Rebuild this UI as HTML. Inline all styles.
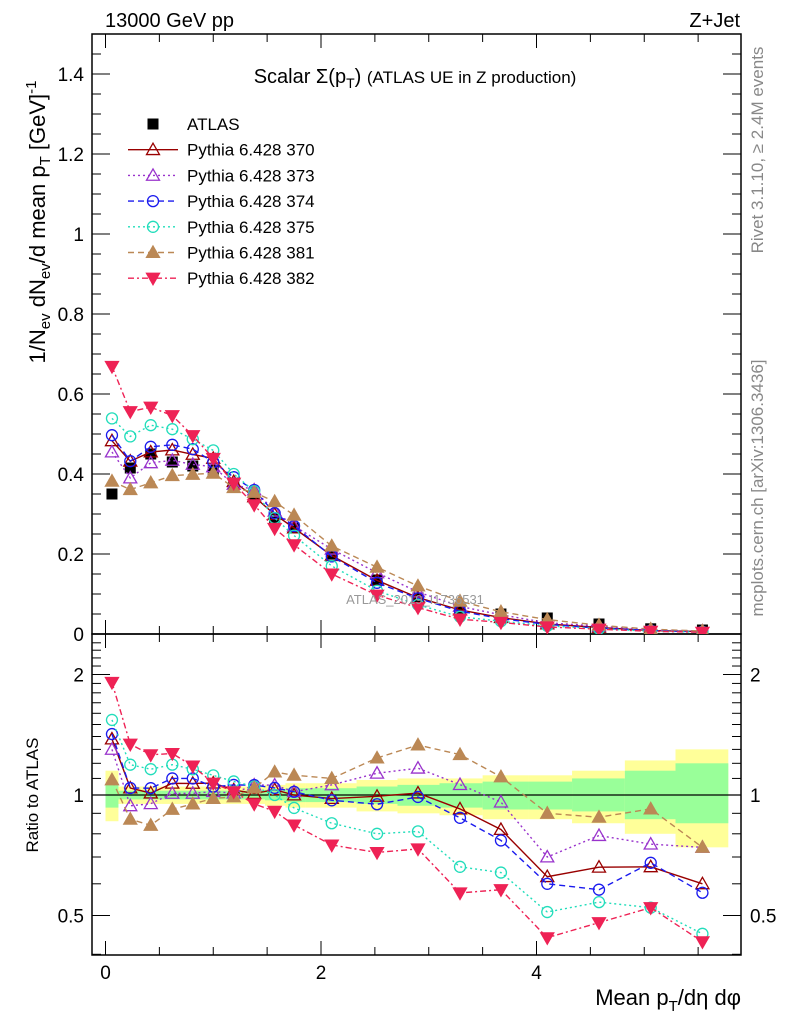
<!DOCTYPE html>
<html><head><meta charset="utf-8"><style>
html,body{margin:0;padding:0;background:#fff}
svg{display:block;font-family:"Liberation Sans",sans-serif}
</style></head><body>
<svg id="c" width="786" height="1024" viewBox="0 0 786 1024"></svg>
<script>
const xCenters=[0.06,0.23,0.42,0.62,0.81,1.0,1.19,1.38,1.57,1.75,2.1,2.52,2.9,3.29,3.67,4.1,4.58,5.06,5.54];
const binEdges=[0,0.12,0.33,0.52,0.71,0.9,1.1,1.29,1.48,1.67,1.86,2.33,2.71,3.1,3.5,3.93,4.33,4.82,5.29,5.78];
const atlasData=[0.35,0.415,0.45,0.43,0.42,0.41,0.37,0.34,0.29,0.265,0.20,0.135,0.09,0.065,0.05,0.04,0.025,0.013,0.01];
const yellowUp=[1.15,1.05,1.05,1.05,1.05,1.05,1.05,1.05,1.06,1.07,1.07,1.09,1.10,1.10,1.12,1.12,1.15,1.22,1.30];
const yellowDn=[0.86,0.95,0.95,0.95,0.95,0.95,0.95,0.95,0.94,0.93,0.93,0.91,0.90,0.89,0.87,0.87,0.85,0.80,0.74];
const greenUp=[1.07,1.025,1.025,1.025,1.025,1.025,1.025,1.025,1.03,1.04,1.04,1.05,1.06,1.07,1.08,1.08,1.10,1.15,1.20];
const greenDn=[0.93,0.975,0.975,0.975,0.975,0.975,0.975,0.975,0.97,0.96,0.96,0.95,0.94,0.93,0.92,0.92,0.91,0.87,0.85];
const mc370=[0.483,0.432,0.455,0.46,0.449,0.439,0.381,0.343,0.299,0.265,0.196,0.134,0.091,0.06,0.041,0.025,0.0165,0.0086,0.006];
const mc373=[0.455,0.39,0.428,0.434,0.424,0.418,0.374,0.36,0.307,0.27,0.212,0.153,0.105,0.069,0.048,0.028,0.0198,0.0098,0.0074];
const mc374=[0.497,0.432,0.468,0.473,0.462,0.43,0.392,0.36,0.302,0.27,0.194,0.128,0.089,0.057,0.0385,0.024,0.0145,0.0088,0.0057];
const mc375=[0.539,0.494,0.522,0.512,0.487,0.459,0.40,0.357,0.29,0.246,0.17,0.108,0.073,0.043,0.032,0.0204,0.0135,0.0068,0.0045];
const mc381=[0.382,0.361,0.378,0.396,0.399,0.402,0.366,0.354,0.331,0.297,0.22,0.167,0.12,0.082,0.0555,0.036,0.022,0.012,0.0074];
const mc382=[0.669,0.556,0.567,0.546,0.496,0.439,0.377,0.323,0.264,0.223,0.15,0.097,0.066,0.037,0.029,0.0176,0.012,0.0068,0.0043];
const mainYTicks=[0,0.2,0.4,0.6,0.8,1,1.2,1.4];
const mainYLabels=["0","0.2","0.4","0.6","0.8","1","1.2","1.4"];
const xTicks=[0,2,4];
const ratioTicks=[0.5,1,2];

const NS="http://www.w3.org/2000/svg";
const svg=document.getElementById('c');
const L=92,R=741,T=34,M=634,B=955;
function X(v){return 105.5+107.75*v;}
function Y(v){return M-400*v;}
function YR(r){return 795-120.5*Math.log2(r);}
function el(tag,at,parent){const e=document.createElementNS(NS,tag);for(const k in at)e.setAttribute(k,at[k]);(parent||svg).appendChild(e);return e;}
function txt(s,x,y,at,parent){const e=el('text',Object.assign({x:x,y:y},at),parent);e.textContent=s;return e;}

const defs=el('defs',{});
const cp1=el('clipPath',{id:'cm'},defs);el('rect',{x:L,y:T,width:R-L,height:M-T},cp1);
const cp2=el('clipPath',{id:'cr'},defs);el('rect',{x:L,y:M,width:R-L,height:B-M},cp2);

const bands=el('g',{'clip-path':'url(#cr)'});


for(let i=0;i<xCenters.length;i++){
  const x1=X(binEdges[i]),x2=X(binEdges[i+1]);
  const y=el('rect',{x:x1,y:YR(yellowUp[i]),width:x2-x1,height:YR(yellowDn[i])-YR(yellowUp[i]),fill:'#ffff99'},bands);
  
  
}
for(let i=0;i<xCenters.length;i++){
  const x1=X(binEdges[i]),x2=X(binEdges[i+1]);
  const g=el('rect',{x:x1,y:YR(greenUp[i]),width:x2-x1,height:YR(greenDn[i])-YR(greenUp[i]),fill:'#99ff99'},bands);
  
  
}
el('line',{x1:L,x2:R,y1:YR(1),y2:YR(1),stroke:'#000','stroke-width':1.2},bands);

for(const [y1,y2,nm] of [[T,M,'main-frame'],[M,B,'ratio-frame']]){
  const f=el('rect',{x:L,y:y1,width:R-L,height:y2-y1,fill:'none',stroke:'#000','stroke-width':1.5});
  
  
}

const tg=el('g',{stroke:'#000','stroke-width':1});
for(let v=-0.0;v<=5.9;v+=0.5){
  const major=Math.abs(v-Math.round(v/2)*2)<1e-6;
  const len=major?14:8;
  const x=X(v);
  el('line',{x1:x,x2:x,y1:M,y2:M-len},tg);el('line',{x1:x,x2:x,y1:T,y2:T+len},tg);
  el('line',{x1:x,x2:x,y1:B,y2:B-len},tg);el('line',{x1:x,x2:x,y1:M,y2:M+len},tg);
}
for(let v=0;v<=1.5;v+=0.05){
  const major=Math.abs(v*5-Math.round(v*5))<1e-6;const len=major?18:9;const y=Y(v);
  el('line',{x1:L,x2:L+len,y1:y,y2:y},tg);el('line',{x1:R,x2:R-len,y1:y,y2:y},tg);
}
for(let r=0.4;r<=2.5;r+=0.1){
  const rr=Math.round(r*10)/10;const major=ratioTicks.includes(rr);const len=major?18:9;const y=YR(rr);
  if(y<M||y>B)continue;
  el('line',{x1:L,x2:L+len,y1:y,y2:y},tg);el('line',{x1:R,x2:R-len,y1:y,y2:y},tg);
}
mainYTicks.forEach((v,i)=>{const t=txt(mainYLabels[i],84,Y(v)+7,{'font-size':19,'text-anchor':'end'});
  
  });
xTicks.forEach(v=>{const t=txt(String(v),X(v),979,{'font-size':19,'text-anchor':'middle'});
  
  });
ratioTicks.forEach(v=>{
  const t=txt(String(v),84,YR(v)+7,{'font-size':19,'text-anchor':'end'});
  
  
  const t2=txt(String(v),750,YR(v)+7,{'font-size':19});
  
  
});

function marker(type,x,y,color,parent){
  const s=6.5;
  if(type==='sq')return el('rect',{x:x-5.5,y:y-5.5,width:11,height:11,fill:'#000'},parent);
  if(type==='tri'||type==='trif')return el('polygon',{points:`${x},${y-s} ${x-s},${y+s*0.75} ${x+s},${y+s*0.75}`,fill:type==='trif'?color:'none',stroke:color,'stroke-width':1.3},parent);
  if(type==='tridf')return el('polygon',{points:`${x},${y+s} ${x-s},${y-s*0.75} ${x+s},${y-s*0.75}`,fill:color,stroke:color,'stroke-width':1.3},parent);
  if(type==='circ')return el('circle',{cx:x,cy:y,r:5.5,fill:'none',stroke:color,'stroke-width':1.3},parent);
}
const series=[
  {name:'Pythia 6.428 370',vals:mc370,color:'#990000',dash:'',m:'tri',id:'370'},
  {name:'Pythia 6.428 373',vals:mc373,color:'#9933cc',dash:'2,3',m:'tri',id:'373'},
  {name:'Pythia 6.428 374',vals:mc374,color:'#1a1aee',dash:'6,4',m:'circ',id:'374'},
  {name:'Pythia 6.428 375',vals:mc375,color:'#22ddbb',dash:'2,3',m:'circ',id:'375'},
  {name:'Pythia 6.428 381',vals:mc381,color:'#bb8855',dash:'6,4',m:'trif',id:'381'},
  {name:'Pythia 6.428 382',vals:mc382,color:'#ee2255',dash:'6,3,2,3',m:'tridf',id:'382'}
];
const mainG=el('g',{'clip-path':'url(#cm)'});
const ratG=el('g',{'clip-path':'url(#cr)'});
const dg=el('g',{},mainG);


xCenters.forEach((x,i)=>{const m=marker('sq',X(x),Y(atlasData[i]),'#000',dg);
  
  });
series.forEach(s=>{
  const gm=el('g',{},mainG);
  
  
  const gr=el('g',{},ratG);
  
  
  const pm=xCenters.map((x,i)=>X(x)+','+Y(s.vals[i])).join(' ');
  const pr=xCenters.map((x,i)=>X(x)+','+YR(s.vals[i]/atlasData[i])).join(' ');
  el('polyline',{points:pm,fill:'none',stroke:s.color,'stroke-width':1.4,'stroke-dasharray':s.dash},gm);
  el('polyline',{points:pr,fill:'none',stroke:s.color,'stroke-width':1.4,'stroke-dasharray':s.dash},gr);
  xCenters.forEach((x,i)=>{
    const a=marker(s.m,X(x),Y(s.vals[i]),s.color,gm);
    
    
    const b=marker(s.m,X(x),YR(s.vals[i]/atlasData[i]),s.color,gr);
    
    
  });
});

const lg=el('g',{});


const ly0=124,ldy=25.7;
const e0=el('g',{},lg);


marker('sq',153,ly0,'#000',e0);txt('ATLAS',187,ly0+6,{'font-size':17},e0);
series.forEach((s,i)=>{
  const y=ly0+ldy*(i+1);
  const e=el('g',{},lg);
  
  
  el('line',{x1:128,x2:178,y1:y,y2:y,stroke:s.color,'stroke-width':1.4,'stroke-dasharray':s.dash},e);
  marker(s.m,153,y,s.color,e);
  txt(s.name,187,y+6,{'font-size':17},e);
});

let t;
t=txt('13000 GeV pp',105,27,{'font-size':20});

t=txt('Z+Jet',740,27,{'font-size':20,'text-anchor':'end'});

t=el('text',{x:415,y:83,'font-size':20,'text-anchor':'middle'});
t.innerHTML='Scalar Σ(p<tspan font-size="14" dy="5">T</tspan><tspan dy="-5">) </tspan><tspan font-size="17">(ATLAS UE in Z production)</tspan>';

t=el('text',{x:0,y:0,'font-size':22,'text-anchor':'middle',transform:'translate(45,222) rotate(-90)'});
t.innerHTML='1/N<tspan font-size="15" dy="5">ev</tspan><tspan dy="-5"> dN</tspan><tspan font-size="15" dy="5">ev</tspan><tspan dy="-5">/d mean p</tspan><tspan font-size="15" dy="5">T</tspan><tspan dy="-5"> [GeV]</tspan><tspan font-size="15" dy="-9">-1</tspan>';

t=txt('Ratio to ATLAS',0,0,{'font-size':17,'text-anchor':'middle',transform:'translate(38,795) rotate(-90)'});

t=el('text',{x:741,y:1005,'font-size':22,'text-anchor':'end'});
t.innerHTML='Mean p<tspan font-size="15" dy="6">T</tspan><tspan dy="-6">/dη dφ</tspan>';

t=txt('Rivet 3.1.10, ≥ 2.4M events',0,0,{'font-size':17,fill:'#888','text-anchor':'middle',transform:'translate(763,150) rotate(-90)'});

t=txt('mcplots.cern.ch [arXiv:1306.3436]',0,0,{'font-size':17,fill:'#888','text-anchor':'middle',transform:'translate(763,488) rotate(-90)'});

t=txt('ATLAS_2019_I1736531',415,604,{'font-size':13,fill:'#999','text-anchor':'middle'});

</script>
</body></html>
